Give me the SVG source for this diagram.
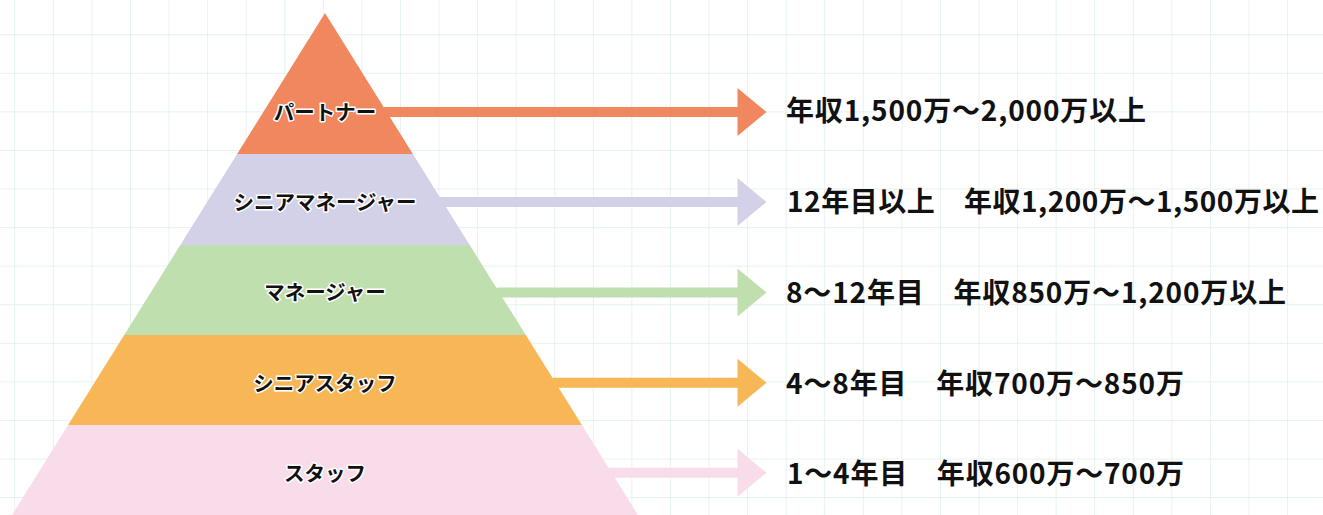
<svg xmlns="http://www.w3.org/2000/svg" width="1323" height="515" viewBox="0 0 1323 515">
  <style>
    .lbl { font-family: "Noto Sans CJK JP", "Noto Sans", sans-serif; font-weight: 700; font-size: 20.5px; fill: #111; stroke: #fff; stroke-width: 3px; paint-order: stroke; stroke-linejoin: round; text-anchor: middle; }
    .info { font-family: "Noto Sans CJK JP", "Noto Sans", sans-serif; font-weight: 700; font-size: 28px; fill: #111; }
  </style>
  <defs>
    <pattern id="grid" patternUnits="userSpaceOnUse" x="14.25" y="34.25" width="38.57" height="38.57">
      <path d="M0 0 V38.57 M0 0 H38.57" fill="none" stroke="#DDEFEA" stroke-width="1.5"/>
    </pattern>
  </defs>
  <rect width="1323" height="515" fill="#fff"/>
  <rect width="1323" height="515" fill="url(#grid)"/>

  <g id="partner">
    <polygon points="325,13 412.9,154 237.1,154" fill="#F0875F"/>
    <text class="lbl" x="325" y="119.5">パートナー</text>
  </g>
  <g id="senior-manager">
    <polygon points="237.1,154 412.9,154 469.7,245 180.3,245" fill="#D3D1E8"/>
    <text class="lbl" x="325" y="209.5">シニアマネージャー</text>
  </g>
  <g id="manager">
    <polygon points="180.3,245 469.7,245 525.8,335 124.2,335" fill="#BFDFAF"/>
    <text class="lbl" x="325" y="300">マネージャー</text>
  </g>
  <g id="senior-staff">
    <polygon points="124.2,335 525.8,335 581.9,425 68.1,425" fill="#F8B757"/>
    <text class="lbl" x="325" y="390.5">シニアスタッフ</text>
  </g>
  <g id="staff">
    <polygon points="68.1,425 581.9,425 638,515 12,515" fill="#F9DCEA"/>
    <text class="lbl" x="325" y="480.5">スタッフ</text>
  </g>

  <g id="connectors">
    <path d="M384 107 H737.5 V88 L766.5 112 L737.5 136 V117 H384 Z" fill="#F0875F"/>
    <path d="M440 197 H737.5 V178 L766.5 202 L737.5 226 V207 H440 Z" fill="#D3D1E8"/>
    <path d="M497 287.5 H737.5 V268.5 L766.5 292.5 L737.5 316.5 V297.5 H497 Z" fill="#BFDFAF"/>
    <path d="M553 377.7 H737.5 V358.7 L766.5 382.7 L737.5 406.7 V387.7 H553 Z" fill="#F8B757"/>
    <path d="M609 467.7 H737.5 V448.7 L766.5 472.7 L737.5 496.7 V477.7 H609 Z" fill="#F9DCEA"/>
  </g>

  <g id="salary-texts">
    <text class="info" x="786" y="120.5" textLength="360" lengthAdjust="spacing">年収1,500万〜2,000万以上</text>
    <text class="info" x="787" y="212" textLength="532" lengthAdjust="spacing">12年目以上　年収1,200万〜1,500万以上</text>
    <text class="info" x="786" y="303" textLength="500" lengthAdjust="spacing">8〜12年目　年収850万〜1,200万以上</text>
    <text class="info" x="786" y="394" textLength="398" lengthAdjust="spacing">4〜8年目　年収700万〜850万</text>
    <text class="info" x="787" y="484" textLength="397" lengthAdjust="spacing">1〜4年目　年収600万〜700万</text>
  </g>
</svg>
